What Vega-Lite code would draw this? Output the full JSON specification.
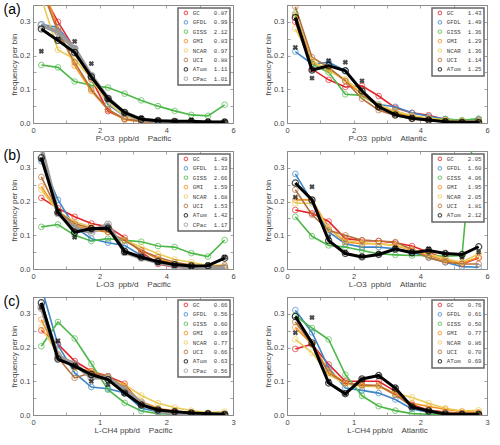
{
"$schema":"https://vega.github.io/schema/vega-lite/v6.json",
"background":"white",
"padding":{"left":3,"top":0,"right":0,"bottom":0},
"datasets":{
"aP":[
{"s":"GC","x":0.25,"y":0.39},{"s":"GC","x":0.75,"y":0.30},{"s":"GC","x":1.25,"y":0.22},{"s":"GC","x":1.75,"y":0.13},{"s":"GC","x":2.25,"y":0.035},{"s":"GC","x":2.75,"y":0.012},{"s":"GC","x":3.25,"y":0.005},{"s":"GC","x":3.75,"y":0.003},{"s":"GC","x":4.25,"y":0.002},{"s":"GC","x":4.75,"y":0.001},{"s":"GC","x":5.25,"y":0.001},{"s":"GC","x":5.75,"y":0.001},
{"s":"GFDL","x":0.25,"y":0.293},{"s":"GFDL","x":0.75,"y":0.283},{"s":"GFDL","x":1.25,"y":0.22},{"s":"GFDL","x":1.75,"y":0.14},{"s":"GFDL","x":2.25,"y":0.055},{"s":"GFDL","x":2.75,"y":0.02},{"s":"GFDL","x":3.25,"y":0.008},{"s":"GFDL","x":3.75,"y":0.004},{"s":"GFDL","x":4.25,"y":0.002},{"s":"GFDL","x":4.75,"y":0.001},{"s":"GFDL","x":5.25,"y":0.001},{"s":"GFDL","x":5.75,"y":0.001},
{"s":"GISS","x":0.25,"y":0.172},{"s":"GISS","x":0.75,"y":0.165},{"s":"GISS","x":1.25,"y":0.123},{"s":"GISS","x":1.75,"y":0.112},{"s":"GISS","x":2.25,"y":0.105},{"s":"GISS","x":2.75,"y":0.087},{"s":"GISS","x":3.25,"y":0.067},{"s":"GISS","x":3.75,"y":0.05},{"s":"GISS","x":4.25,"y":0.036},{"s":"GISS","x":4.75,"y":0.024},{"s":"GISS","x":5.25,"y":0.021},{"s":"GISS","x":5.75,"y":0.054},
{"s":"GMI","x":0.25,"y":0.42},{"s":"GMI","x":0.75,"y":0.28},{"s":"GMI","x":1.25,"y":0.17},{"s":"GMI","x":1.75,"y":0.095},{"s":"GMI","x":2.25,"y":0.04},{"s":"GMI","x":2.75,"y":0.01},{"s":"GMI","x":3.25,"y":0.004},{"s":"GMI","x":3.75,"y":0.002},{"s":"GMI","x":4.25,"y":0.001},{"s":"GMI","x":4.75,"y":0.001},{"s":"GMI","x":5.25,"y":0.001},{"s":"GMI","x":5.75,"y":0.001},
{"s":"NCAR","x":0.25,"y":0.37},{"s":"NCAR","x":0.75,"y":0.217},{"s":"NCAR","x":1.25,"y":0.19},{"s":"NCAR","x":1.75,"y":0.13},{"s":"NCAR","x":2.25,"y":0.06},{"s":"NCAR","x":2.75,"y":0.02},{"s":"NCAR","x":3.25,"y":0.008},{"s":"NCAR","x":3.75,"y":0.004},{"s":"NCAR","x":4.25,"y":0.002},{"s":"NCAR","x":4.75,"y":0.001},{"s":"NCAR","x":5.25,"y":0.001},{"s":"NCAR","x":5.75,"y":0.001},
{"s":"UCI","x":0.25,"y":0.40},{"s":"UCI","x":0.75,"y":0.27},{"s":"UCI","x":1.25,"y":0.18},{"s":"UCI","x":1.75,"y":0.10},{"s":"UCI","x":2.25,"y":0.04},{"s":"UCI","x":2.75,"y":0.012},{"s":"UCI","x":3.25,"y":0.005},{"s":"UCI","x":3.75,"y":0.002},{"s":"UCI","x":4.25,"y":0.001},{"s":"UCI","x":4.75,"y":0.001},{"s":"UCI","x":5.25,"y":0.001},{"s":"UCI","x":5.75,"y":0.001},
{"s":"CPac","x":0.25,"y":0.29},{"s":"CPac","x":0.75,"y":0.27},{"s":"CPac","x":1.25,"y":0.22},{"s":"CPac","x":1.75,"y":0.14},{"s":"CPac","x":2.25,"y":0.073},{"s":"CPac","x":2.75,"y":0.03},{"s":"CPac","x":3.25,"y":0.01},{"s":"CPac","x":3.75,"y":0.005},{"s":"CPac","x":4.25,"y":0.003},{"s":"CPac","x":4.75,"y":0.002},{"s":"CPac","x":5.25,"y":0.001},{"s":"CPac","x":5.75,"y":0.001},
{"s":"ATom","x":0.25,"y":0.279},{"s":"ATom","x":0.75,"y":0.245},{"s":"ATom","x":1.25,"y":0.209},{"s":"ATom","x":1.75,"y":0.137},{"s":"ATom","x":2.25,"y":0.072},{"s":"ATom","x":2.75,"y":0.031},{"s":"ATom","x":3.25,"y":0.011},{"s":"ATom","x":3.75,"y":0.007},{"s":"ATom","x":4.25,"y":0.005},{"s":"ATom","x":4.75,"y":0.005},{"s":"ATom","x":5.25,"y":0.003},{"s":"ATom","x":5.75,"y":0.003},
{"s":"X","x":0.25,"y":0.213},{"s":"X","x":0.75,"y":0.25},{"s":"X","x":1.25,"y":0.242},{"s":"X","x":1.75,"y":0.176},{"s":"X","x":2.25,"y":0.07},{"s":"X","x":2.75,"y":0.03},{"s":"X","x":3.25,"y":0.016},{"s":"X","x":3.75,"y":0.008},{"s":"X","x":4.25,"y":0.005},{"s":"X","x":4.75,"y":0.009},{"s":"X","x":5.25,"y":0.004},{"s":"X","x":5.75,"y":0.004}
],
"aA":[
{"s":"GC","x":0.25,"y":0.30},{"s":"GC","x":0.75,"y":0.16},{"s":"GC","x":1.25,"y":0.128},{"s":"GC","x":1.75,"y":0.107},{"s":"GC","x":2.25,"y":0.11},{"s":"GC","x":2.75,"y":0.08},{"s":"GC","x":3.25,"y":0.045},{"s":"GC","x":3.75,"y":0.03},{"s":"GC","x":4.25,"y":0.023},{"s":"GC","x":4.75,"y":0.01},{"s":"GC","x":5.25,"y":0.006},{"s":"GC","x":5.75,"y":0.01},
{"s":"GFDL","x":0.25,"y":0.212},{"s":"GFDL","x":0.75,"y":0.175},{"s":"GFDL","x":1.25,"y":0.18},{"s":"GFDL","x":1.75,"y":0.155},{"s":"GFDL","x":2.25,"y":0.09},{"s":"GFDL","x":2.75,"y":0.055},{"s":"GFDL","x":3.25,"y":0.048},{"s":"GFDL","x":3.75,"y":0.03},{"s":"GFDL","x":4.25,"y":0.02},{"s":"GFDL","x":4.75,"y":0.012},{"s":"GFDL","x":5.25,"y":0.007},{"s":"GFDL","x":5.75,"y":0.01},
{"s":"GISS","x":0.25,"y":0.325},{"s":"GISS","x":0.75,"y":0.175},{"s":"GISS","x":1.25,"y":0.15},{"s":"GISS","x":1.75,"y":0.085},{"s":"GISS","x":2.25,"y":0.082},{"s":"GISS","x":2.75,"y":0.05},{"s":"GISS","x":3.25,"y":0.035},{"s":"GISS","x":3.75,"y":0.02},{"s":"GISS","x":4.25,"y":0.012},{"s":"GISS","x":4.75,"y":0.012},{"s":"GISS","x":5.25,"y":0.008},{"s":"GISS","x":5.75,"y":0.013},
{"s":"GMI","x":0.25,"y":0.32},{"s":"GMI","x":0.75,"y":0.18},{"s":"GMI","x":1.25,"y":0.16},{"s":"GMI","x":1.75,"y":0.125},{"s":"GMI","x":2.25,"y":0.085},{"s":"GMI","x":2.75,"y":0.05},{"s":"GMI","x":3.25,"y":0.03},{"s":"GMI","x":3.75,"y":0.02},{"s":"GMI","x":4.25,"y":0.012},{"s":"GMI","x":4.75,"y":0.007},{"s":"GMI","x":5.25,"y":0.004},{"s":"GMI","x":5.75,"y":0.004},
{"s":"NCAR","x":0.25,"y":0.28},{"s":"NCAR","x":0.75,"y":0.185},{"s":"NCAR","x":1.25,"y":0.155},{"s":"NCAR","x":1.75,"y":0.13},{"s":"NCAR","x":2.25,"y":0.09},{"s":"NCAR","x":2.75,"y":0.055},{"s":"NCAR","x":3.25,"y":0.035},{"s":"NCAR","x":3.75,"y":0.022},{"s":"NCAR","x":4.25,"y":0.015},{"s":"NCAR","x":4.75,"y":0.009},{"s":"NCAR","x":5.25,"y":0.006},{"s":"NCAR","x":5.75,"y":0.005},
{"s":"UCI","x":0.25,"y":0.345},{"s":"UCI","x":0.75,"y":0.195},{"s":"UCI","x":1.25,"y":0.165},{"s":"UCI","x":1.75,"y":0.125},{"s":"UCI","x":2.25,"y":0.072},{"s":"UCI","x":2.75,"y":0.038},{"s":"UCI","x":3.25,"y":0.022},{"s":"UCI","x":3.75,"y":0.012},{"s":"UCI","x":4.25,"y":0.007},{"s":"UCI","x":4.75,"y":0.004},{"s":"UCI","x":5.25,"y":0.002},{"s":"UCI","x":5.75,"y":0.002},
{"s":"ATom","x":0.25,"y":0.313},{"s":"ATom","x":0.75,"y":0.157},{"s":"ATom","x":1.25,"y":0.17},{"s":"ATom","x":1.75,"y":0.155},{"s":"ATom","x":2.25,"y":0.095},{"s":"ATom","x":2.75,"y":0.048},{"s":"ATom","x":3.25,"y":0.024},{"s":"ATom","x":3.75,"y":0.014},{"s":"ATom","x":4.25,"y":0.009},{"s":"ATom","x":4.75,"y":0.004},{"s":"ATom","x":5.25,"y":0.002},{"s":"ATom","x":5.75,"y":0.002},
{"s":"X","x":0.25,"y":0.224},{"s":"X","x":0.75,"y":0.133},{"s":"X","x":1.25,"y":0.185},{"s":"X","x":1.75,"y":0.18},{"s":"X","x":2.25,"y":0.125},{"s":"X","x":2.75,"y":0.05},{"s":"X","x":3.25,"y":0.025},{"s":"X","x":3.75,"y":0.015},{"s":"X","x":4.25,"y":0.01},{"s":"X","x":4.75,"y":0.005},{"s":"X","x":5.25,"y":0.003},{"s":"X","x":5.75,"y":0.002}
],
"bP":[
{"s":"GC","x":0.25,"y":0.211},{"s":"GC","x":0.75,"y":0.18},{"s":"GC","x":1.25,"y":0.155},{"s":"GC","x":1.75,"y":0.135},{"s":"GC","x":2.25,"y":0.125},{"s":"GC","x":2.75,"y":0.093},{"s":"GC","x":3.25,"y":0.05},{"s":"GC","x":3.75,"y":0.015},{"s":"GC","x":4.25,"y":0.005},{"s":"GC","x":4.75,"y":0.003},{"s":"GC","x":5.25,"y":0.002},{"s":"GC","x":5.75,"y":0.003},
{"s":"GFDL","x":0.25,"y":0.32},{"s":"GFDL","x":0.75,"y":0.205},{"s":"GFDL","x":1.25,"y":0.125},{"s":"GFDL","x":1.75,"y":0.09},{"s":"GFDL","x":2.25,"y":0.078},{"s":"GFDL","x":2.75,"y":0.07},{"s":"GFDL","x":3.25,"y":0.04},{"s":"GFDL","x":3.75,"y":0.02},{"s":"GFDL","x":4.25,"y":0.01},{"s":"GFDL","x":4.75,"y":0.005},{"s":"GFDL","x":5.25,"y":0.003},{"s":"GFDL","x":5.75,"y":0.003},
{"s":"GISS","x":0.25,"y":0.125},{"s":"GISS","x":0.75,"y":0.132},{"s":"GISS","x":1.25,"y":0.10},{"s":"GISS","x":1.75,"y":0.083},{"s":"GISS","x":2.25,"y":0.09},{"s":"GISS","x":2.75,"y":0.085},{"s":"GISS","x":3.25,"y":0.081},{"s":"GISS","x":3.75,"y":0.068},{"s":"GISS","x":4.25,"y":0.065},{"s":"GISS","x":4.75,"y":0.047},{"s":"GISS","x":5.25,"y":0.037},{"s":"GISS","x":5.75,"y":0.086},
{"s":"GMI","x":0.25,"y":0.245},{"s":"GMI","x":0.75,"y":0.17},{"s":"GMI","x":1.25,"y":0.13},{"s":"GMI","x":1.75,"y":0.115},{"s":"GMI","x":2.25,"y":0.11},{"s":"GMI","x":2.75,"y":0.085},{"s":"GMI","x":3.25,"y":0.055},{"s":"GMI","x":3.75,"y":0.03},{"s":"GMI","x":4.25,"y":0.015},{"s":"GMI","x":4.75,"y":0.008},{"s":"GMI","x":5.25,"y":0.005},{"s":"GMI","x":5.75,"y":0.005},
{"s":"NCAR","x":0.25,"y":0.235},{"s":"NCAR","x":0.75,"y":0.17},{"s":"NCAR","x":1.25,"y":0.14},{"s":"NCAR","x":1.75,"y":0.125},{"s":"NCAR","x":2.25,"y":0.11},{"s":"NCAR","x":2.75,"y":0.085},{"s":"NCAR","x":3.25,"y":0.065},{"s":"NCAR","x":3.75,"y":0.045},{"s":"NCAR","x":4.25,"y":0.028},{"s":"NCAR","x":4.75,"y":0.02},{"s":"NCAR","x":5.25,"y":0.01},{"s":"NCAR","x":5.75,"y":0.012},
{"s":"UCI","x":0.25,"y":0.273},{"s":"UCI","x":0.75,"y":0.17},{"s":"UCI","x":1.25,"y":0.135},{"s":"UCI","x":1.75,"y":0.12},{"s":"UCI","x":2.25,"y":0.11},{"s":"UCI","x":2.75,"y":0.085},{"s":"UCI","x":3.25,"y":0.055},{"s":"UCI","x":3.75,"y":0.035},{"s":"UCI","x":4.25,"y":0.02},{"s":"UCI","x":4.75,"y":0.012},{"s":"UCI","x":5.25,"y":0.007},{"s":"UCI","x":5.75,"y":0.01},
{"s":"CPac","x":0.25,"y":0.36},{"s":"CPac","x":0.75,"y":0.165},{"s":"CPac","x":1.25,"y":0.12},{"s":"CPac","x":1.75,"y":0.11},{"s":"CPac","x":2.25,"y":0.132},{"s":"CPac","x":2.75,"y":0.05},{"s":"CPac","x":3.25,"y":0.033},{"s":"CPac","x":3.75,"y":0.02},{"s":"CPac","x":4.25,"y":0.01},{"s":"CPac","x":4.75,"y":0.003},{"s":"CPac","x":5.25,"y":0.003},{"s":"CPac","x":5.75,"y":0.002},
{"s":"ATom","x":0.25,"y":0.33},{"s":"ATom","x":0.75,"y":0.168},{"s":"ATom","x":1.25,"y":0.109},{"s":"ATom","x":1.75,"y":0.12},{"s":"ATom","x":2.25,"y":0.121},{"s":"ATom","x":2.75,"y":0.052},{"s":"ATom","x":3.25,"y":0.035},{"s":"ATom","x":3.75,"y":0.022},{"s":"ATom","x":4.25,"y":0.013},{"s":"ATom","x":4.75,"y":0.009},{"s":"ATom","x":5.25,"y":0.01},{"s":"ATom","x":5.75,"y":0.032},
{"s":"X","x":0.25,"y":0.325},{"s":"X","x":0.75,"y":0.17},{"s":"X","x":1.25,"y":0.094},{"s":"X","x":1.75,"y":0.118},{"s":"X","x":2.25,"y":0.12},{"s":"X","x":2.75,"y":0.048},{"s":"X","x":3.25,"y":0.035},{"s":"X","x":3.75,"y":0.02},{"s":"X","x":4.25,"y":0.012},{"s":"X","x":4.75,"y":0.008},{"s":"X","x":5.25,"y":0.012},{"s":"X","x":5.75,"y":0.035}
],
"bA":[
{"s":"GC","x":0.25,"y":0.175},{"s":"GC","x":0.75,"y":0.165},{"s":"GC","x":1.25,"y":0.141},{"s":"GC","x":1.75,"y":0.09},{"s":"GC","x":2.25,"y":0.085},{"s":"GC","x":2.75,"y":0.083},{"s":"GC","x":3.25,"y":0.078},{"s":"GC","x":3.75,"y":0.068},{"s":"GC","x":4.25,"y":0.05},{"s":"GC","x":4.75,"y":0.03},{"s":"GC","x":5.25,"y":0.015},{"s":"GC","x":5.75,"y":0.033},
{"s":"GFDL","x":0.25,"y":0.282},{"s":"GFDL","x":0.75,"y":0.2},{"s":"GFDL","x":1.25,"y":0.11},{"s":"GFDL","x":1.75,"y":0.075},{"s":"GFDL","x":2.25,"y":0.065},{"s":"GFDL","x":2.75,"y":0.065},{"s":"GFDL","x":3.25,"y":0.06},{"s":"GFDL","x":3.75,"y":0.05},{"s":"GFDL","x":4.25,"y":0.035},{"s":"GFDL","x":4.75,"y":0.02},{"s":"GFDL","x":5.25,"y":0.007},{"s":"GFDL","x":5.75,"y":0.005},
{"s":"GISS","x":0.25,"y":0.155},{"s":"GISS","x":0.75,"y":0.097},{"s":"GISS","x":1.25,"y":0.07},{"s":"GISS","x":1.75,"y":0.065},{"s":"GISS","x":2.25,"y":0.055},{"s":"GISS","x":2.75,"y":0.045},{"s":"GISS","x":3.25,"y":0.042},{"s":"GISS","x":3.75,"y":0.04},{"s":"GISS","x":4.25,"y":0.04},{"s":"GISS","x":4.75,"y":0.038},{"s":"GISS","x":5.25,"y":0.04},{"s":"GISS","x":5.75,"y":0.58},
{"s":"GMI","x":0.25,"y":0.205},{"s":"GMI","x":0.75,"y":0.205},{"s":"GMI","x":1.25,"y":0.12},{"s":"GMI","x":1.75,"y":0.08},{"s":"GMI","x":2.25,"y":0.075},{"s":"GMI","x":2.75,"y":0.075},{"s":"GMI","x":3.25,"y":0.07},{"s":"GMI","x":3.75,"y":0.055},{"s":"GMI","x":4.25,"y":0.04},{"s":"GMI","x":4.75,"y":0.025},{"s":"GMI","x":5.25,"y":0.017},{"s":"GMI","x":5.75,"y":0.035},
{"s":"NCAR","x":0.25,"y":0.195},{"s":"NCAR","x":0.75,"y":0.195},{"s":"NCAR","x":1.25,"y":0.12},{"s":"NCAR","x":1.75,"y":0.085},{"s":"NCAR","x":2.25,"y":0.078},{"s":"NCAR","x":2.75,"y":0.075},{"s":"NCAR","x":3.25,"y":0.07},{"s":"NCAR","x":3.75,"y":0.058},{"s":"NCAR","x":4.25,"y":0.045},{"s":"NCAR","x":4.75,"y":0.03},{"s":"NCAR","x":5.25,"y":0.02},{"s":"NCAR","x":5.75,"y":0.045},
{"s":"UCI","x":0.25,"y":0.235},{"s":"UCI","x":0.75,"y":0.161},{"s":"UCI","x":1.25,"y":0.115},{"s":"UCI","x":1.75,"y":0.10},{"s":"UCI","x":2.25,"y":0.085},{"s":"UCI","x":2.75,"y":0.083},{"s":"UCI","x":3.25,"y":0.08},{"s":"UCI","x":3.75,"y":0.058},{"s":"UCI","x":4.25,"y":0.033},{"s":"UCI","x":4.75,"y":0.02},{"s":"UCI","x":5.25,"y":0.015},{"s":"UCI","x":5.75,"y":0.015},
{"s":"ATom","x":0.25,"y":0.255},{"s":"ATom","x":0.75,"y":0.205},{"s":"ATom","x":1.25,"y":0.084},{"s":"ATom","x":1.75,"y":0.046},{"s":"ATom","x":2.25,"y":0.036},{"s":"ATom","x":2.75,"y":0.043},{"s":"ATom","x":3.25,"y":0.059},{"s":"ATom","x":3.75,"y":0.048},{"s":"ATom","x":4.25,"y":0.055},{"s":"ATom","x":4.75,"y":0.046},{"s":"ATom","x":5.25,"y":0.043},{"s":"ATom","x":5.75,"y":0.066},
{"s":"X","x":0.25,"y":0.213},{"s":"X","x":0.75,"y":0.244},{"s":"X","x":1.25,"y":0.095},{"s":"X","x":1.75,"y":0.048},{"s":"X","x":2.25,"y":0.038},{"s":"X","x":2.75,"y":0.045},{"s":"X","x":3.25,"y":0.062},{"s":"X","x":3.75,"y":0.05},{"s":"X","x":4.25,"y":0.06},{"s":"X","x":4.75,"y":0.046},{"s":"X","x":5.25,"y":0.035},{"s":"X","x":5.75,"y":0.05}
],
"cP":[
{"s":"GC","x":0.125,"y":0.251},{"s":"GC","x":0.375,"y":0.21},{"s":"GC","x":0.625,"y":0.16},{"s":"GC","x":0.875,"y":0.13},{"s":"GC","x":1.125,"y":0.115},{"s":"GC","x":1.375,"y":0.093},{"s":"GC","x":1.625,"y":0.03},{"s":"GC","x":1.875,"y":0.015},{"s":"GC","x":2.125,"y":0.008},{"s":"GC","x":2.375,"y":0.005},{"s":"GC","x":2.625,"y":0.003},{"s":"GC","x":2.875,"y":0.002},
{"s":"GFDL","x":0.125,"y":0.38},{"s":"GFDL","x":0.375,"y":0.207},{"s":"GFDL","x":0.625,"y":0.125},{"s":"GFDL","x":0.875,"y":0.083},{"s":"GFDL","x":1.125,"y":0.078},{"s":"GFDL","x":1.375,"y":0.065},{"s":"GFDL","x":1.625,"y":0.02},{"s":"GFDL","x":1.875,"y":0.01},{"s":"GFDL","x":2.125,"y":0.005},{"s":"GFDL","x":2.375,"y":0.003},{"s":"GFDL","x":2.625,"y":0.002},{"s":"GFDL","x":2.875,"y":0.001},
{"s":"GISS","x":0.125,"y":0.204},{"s":"GISS","x":0.375,"y":0.276},{"s":"GISS","x":0.625,"y":0.227},{"s":"GISS","x":0.875,"y":0.152},{"s":"GISS","x":1.125,"y":0.075},{"s":"GISS","x":1.375,"y":0.036},{"s":"GISS","x":1.625,"y":0.012},{"s":"GISS","x":1.875,"y":0.004},{"s":"GISS","x":2.125,"y":0.002},{"s":"GISS","x":2.375,"y":0.001},{"s":"GISS","x":2.625,"y":0.001},{"s":"GISS","x":2.875,"y":0.001},
{"s":"GMI","x":0.125,"y":0.283},{"s":"GMI","x":0.375,"y":0.18},{"s":"GMI","x":0.625,"y":0.14},{"s":"GMI","x":0.875,"y":0.13},{"s":"GMI","x":1.125,"y":0.11},{"s":"GMI","x":1.375,"y":0.085},{"s":"GMI","x":1.625,"y":0.04},{"s":"GMI","x":1.875,"y":0.02},{"s":"GMI","x":2.125,"y":0.012},{"s":"GMI","x":2.375,"y":0.007},{"s":"GMI","x":2.625,"y":0.004},{"s":"GMI","x":2.875,"y":0.004},
{"s":"NCAR","x":0.125,"y":0.26},{"s":"NCAR","x":0.375,"y":0.18},{"s":"NCAR","x":0.625,"y":0.14},{"s":"NCAR","x":0.875,"y":0.125},{"s":"NCAR","x":1.125,"y":0.11},{"s":"NCAR","x":1.375,"y":0.09},{"s":"NCAR","x":1.625,"y":0.058},{"s":"NCAR","x":1.875,"y":0.035},{"s":"NCAR","x":2.125,"y":0.022},{"s":"NCAR","x":2.375,"y":0.013},{"s":"NCAR","x":2.625,"y":0.007},{"s":"NCAR","x":2.875,"y":0.01},
{"s":"UCI","x":0.125,"y":0.315},{"s":"UCI","x":0.375,"y":0.17},{"s":"UCI","x":0.625,"y":0.11},{"s":"UCI","x":0.875,"y":0.125},{"s":"UCI","x":1.125,"y":0.115},{"s":"UCI","x":1.375,"y":0.08},{"s":"UCI","x":1.625,"y":0.03},{"s":"UCI","x":1.875,"y":0.015},{"s":"UCI","x":2.125,"y":0.008},{"s":"UCI","x":2.375,"y":0.005},{"s":"UCI","x":2.625,"y":0.003},{"s":"UCI","x":2.875,"y":0.002},
{"s":"CPac","x":0.125,"y":0.32},{"s":"CPac","x":0.375,"y":0.175},{"s":"CPac","x":0.625,"y":0.15},{"s":"CPac","x":0.875,"y":0.112},{"s":"CPac","x":1.125,"y":0.11},{"s":"CPac","x":1.375,"y":0.075},{"s":"CPac","x":1.625,"y":0.035},{"s":"CPac","x":1.875,"y":0.012},{"s":"CPac","x":2.125,"y":0.004},{"s":"CPac","x":2.375,"y":0.003},{"s":"CPac","x":2.625,"y":0.002},{"s":"CPac","x":2.875,"y":0.001},
{"s":"ATom","x":0.125,"y":0.333},{"s":"ATom","x":0.375,"y":0.166},{"s":"ATom","x":0.625,"y":0.145},{"s":"ATom","x":0.875,"y":0.12},{"s":"ATom","x":1.125,"y":0.105},{"s":"ATom","x":1.375,"y":0.065},{"s":"ATom","x":1.625,"y":0.03},{"s":"ATom","x":1.875,"y":0.015},{"s":"ATom","x":2.125,"y":0.01},{"s":"ATom","x":2.375,"y":0.006},{"s":"ATom","x":2.625,"y":0.004},{"s":"ATom","x":2.875,"y":0.002},
{"s":"X","x":0.125,"y":0.32},{"s":"X","x":0.375,"y":0.22},{"s":"X","x":0.625,"y":0.145},{"s":"X","x":0.875,"y":0.10},{"s":"X","x":1.125,"y":0.09},{"s":"X","x":1.375,"y":0.065},{"s":"X","x":1.625,"y":0.03},{"s":"X","x":1.875,"y":0.015},{"s":"X","x":2.125,"y":0.01},{"s":"X","x":2.375,"y":0.006},{"s":"X","x":2.625,"y":0.004},{"s":"X","x":2.875,"y":0.002}
],
"cA":[
{"s":"GC","x":0.125,"y":0.196},{"s":"GC","x":0.375,"y":0.21},{"s":"GC","x":0.625,"y":0.15},{"s":"GC","x":0.875,"y":0.10},{"s":"GC","x":1.125,"y":0.10},{"s":"GC","x":1.375,"y":0.10},{"s":"GC","x":1.625,"y":0.07},{"s":"GC","x":1.875,"y":0.03},{"s":"GC","x":2.125,"y":0.015},{"s":"GC","x":2.375,"y":0.008},{"s":"GC","x":2.625,"y":0.005},{"s":"GC","x":2.875,"y":0.004},
{"s":"GFDL","x":0.125,"y":0.311},{"s":"GFDL","x":0.375,"y":0.245},{"s":"GFDL","x":0.625,"y":0.14},{"s":"GFDL","x":0.875,"y":0.08},{"s":"GFDL","x":1.125,"y":0.073},{"s":"GFDL","x":1.375,"y":0.065},{"s":"GFDL","x":1.625,"y":0.046},{"s":"GFDL","x":1.875,"y":0.018},{"s":"GFDL","x":2.125,"y":0.008},{"s":"GFDL","x":2.375,"y":0.004},{"s":"GFDL","x":2.625,"y":0.002},{"s":"GFDL","x":2.875,"y":0.002},
{"s":"GISS","x":0.125,"y":0.295},{"s":"GISS","x":0.375,"y":0.258},{"s":"GISS","x":0.625,"y":0.224},{"s":"GISS","x":0.875,"y":0.12},{"s":"GISS","x":1.125,"y":0.057},{"s":"GISS","x":1.375,"y":0.026},{"s":"GISS","x":1.625,"y":0.013},{"s":"GISS","x":1.875,"y":0.004},{"s":"GISS","x":2.125,"y":0.002},{"s":"GISS","x":2.375,"y":0.001},{"s":"GISS","x":2.625,"y":0.001},{"s":"GISS","x":2.875,"y":0.001},
{"s":"GMI","x":0.125,"y":0.26},{"s":"GMI","x":0.375,"y":0.21},{"s":"GMI","x":0.625,"y":0.13},{"s":"GMI","x":0.875,"y":0.095},{"s":"GMI","x":1.125,"y":0.09},{"s":"GMI","x":1.375,"y":0.085},{"s":"GMI","x":1.625,"y":0.06},{"s":"GMI","x":1.875,"y":0.035},{"s":"GMI","x":2.125,"y":0.025},{"s":"GMI","x":2.375,"y":0.017},{"s":"GMI","x":2.625,"y":0.01},{"s":"GMI","x":2.875,"y":0.008},
{"s":"NCAR","x":0.125,"y":0.224},{"s":"NCAR","x":0.375,"y":0.185},{"s":"NCAR","x":0.625,"y":0.12},{"s":"NCAR","x":0.875,"y":0.092},{"s":"NCAR","x":1.125,"y":0.085},{"s":"NCAR","x":1.375,"y":0.085},{"s":"NCAR","x":1.625,"y":0.065},{"s":"NCAR","x":1.875,"y":0.052},{"s":"NCAR","x":2.125,"y":0.035},{"s":"NCAR","x":2.375,"y":0.02},{"s":"NCAR","x":2.625,"y":0.012},{"s":"NCAR","x":2.875,"y":0.014},
{"s":"UCI","x":0.125,"y":0.276},{"s":"UCI","x":0.375,"y":0.21},{"s":"UCI","x":0.625,"y":0.125},{"s":"UCI","x":0.875,"y":0.095},{"s":"UCI","x":1.125,"y":0.088},{"s":"UCI","x":1.375,"y":0.088},{"s":"UCI","x":1.625,"y":0.06},{"s":"UCI","x":1.875,"y":0.025},{"s":"UCI","x":2.125,"y":0.015},{"s":"UCI","x":2.375,"y":0.008},{"s":"UCI","x":2.625,"y":0.005},{"s":"UCI","x":2.875,"y":0.004},
{"s":"ATom","x":0.125,"y":0.292},{"s":"ATom","x":0.375,"y":0.214},{"s":"ATom","x":0.625,"y":0.095},{"s":"ATom","x":0.875,"y":0.063},{"s":"ATom","x":1.125,"y":0.107},{"s":"ATom","x":1.375,"y":0.117},{"s":"ATom","x":1.625,"y":0.08},{"s":"ATom","x":1.875,"y":0.024},{"s":"ATom","x":2.125,"y":0.012},{"s":"ATom","x":2.375,"y":0.003},{"s":"ATom","x":2.625,"y":0.002},{"s":"ATom","x":2.875,"y":0.002},
{"s":"X","x":0.125,"y":0.244},{"s":"X","x":0.375,"y":0.289},{"s":"X","x":0.625,"y":0.1},{"s":"X","x":0.875,"y":0.063},{"s":"X","x":1.125,"y":0.105},{"s":"X","x":1.375,"y":0.115},{"s":"X","x":1.625,"y":0.08},{"s":"X","x":1.875,"y":0.024},{"s":"X","x":2.125,"y":0.012},{"s":"X","x":2.375,"y":0.003},{"s":"X","x":2.625,"y":0.002},{"s":"X","x":2.875,"y":0.002}
]
},
"columns":2,
"spacing":{"row":3,"column":28},
"resolve":{"scale":{"x":"independent","y":"independent","color":"independent"},"legend":{"color":"independent"}},
"concat":[
{"width":200,"height":118,"data":{"name":"aP"},
"title":{"text":"(a)","anchor":"start","frame":"bounds","orient":"top","offset":0,"dx":-7,"dy":16,"fontSize":14,"fontWeight":"normal","font":"Liberation Sans","color":"#000"},
"resolve":{"axis":{"x":"independent","y":"independent"}},
"layer":[
{"encoding":{
"x":{"field":"x","type":"quantitative","scale":{"domain":[0,6],"nice":false},"axis":{"values":[0,1,2,3,4,5,6],"labelExpr":"datum.value % 2 == 0 ? datum.label : ''","title":"P-O3\u00a0\u00a0ppb/d\u00a0\u00a0\u00a0\u00a0Pacific"}},
"y":{"field":"y","type":"quantitative","scale":{"domain":[0,0.35],"nice":false},"axis":{"values":[0,0.05,0.1,0.15,0.2,0.25,0.3,0.35],"labelExpr":"round(datum.value*100) % 10 == 0 ? format(datum.value,'.1f') : ''","title":"frequency per bin"}},
"color":{"field":"s","type":"nominal","scale":{"domain":["GC","GFDL","GISS","GMI","NCAR","UCI","ATom","CPac"],"range":["#e4262a","#3d85c6","#4db848","#f5901e","#ebcb58","#b5703a","#000000","#999999"]},"legend":{"title":null,"labelExpr":"pad(datum.label,6,'\u00a0') + ({'GC':'0.87','GFDL':'0.99','GISS':'2.12','GMI':'0.83','NCAR':'0.97','UCI':'0.88','ATom':'1.11','CPac':'1.01'})[datum.label]"}}},
"layer":[
{"transform":[{"filter":"indexof(['GC','GFDL','GISS','GMI','NCAR','UCI'],datum.s)>=0"}],"mark":{"type":"line","strokeWidth":1.6,"clip":true}},
{"transform":[{"filter":"indexof(['GC','GFDL','GISS','GMI','NCAR','UCI'],datum.s)>=0"}],"mark":{"type":"point","filled":false,"size":32,"strokeWidth":1,"clip":true}},
{"transform":[{"filter":"datum.s=='CPac'"}],"mark":{"type":"line","strokeWidth":4,"clip":true}},
{"transform":[{"filter":"datum.s=='CPac'"}],"mark":{"type":"point","filled":false,"size":45,"strokeWidth":1.2,"clip":true}},
{"transform":[{"filter":"datum.s=='X'"}],"mark":{"type":"point","shape":"cross","angle":45,"filled":true,"size":30,"clip":true},"encoding":{"color":{"value":"#000"}}},
{"transform":[{"filter":"datum.s=='ATom'"}],"mark":{"type":"line","strokeWidth":3,"clip":true}},
{"transform":[{"filter":"datum.s=='ATom'"}],"mark":{"type":"point","filled":false,"size":38,"strokeWidth":1.2,"clip":true}}
]},
{"mark":{"type":"point","opacity":0,"clip":true},"encoding":{
"x":{"field":"x","type":"quantitative","scale":{"domain":[0,6],"nice":false},"axis":{"orient":"top","values":[0,1,2,3,4,5,6],"labels":false,"domain":false,"title":null}},
"y":{"field":"y","type":"quantitative","scale":{"domain":[0,0.35],"nice":false},"axis":{"orient":"right","values":[0,0.05,0.1,0.15,0.2,0.25,0.3,0.35],"labels":false,"domain":false,"title":null}}}}
]},
{"width":200,"height":118,"data":{"name":"aA"},
"resolve":{"axis":{"x":"independent","y":"independent"}},
"layer":[
{"encoding":{
"x":{"field":"x","type":"quantitative","scale":{"domain":[0,6],"nice":false},"axis":{"values":[0,1,2,3,4,5,6],"labelExpr":"datum.value % 2 == 0 ? datum.label : ''","title":"P-O3\u00a0\u00a0ppb/d\u00a0\u00a0\u00a0\u00a0Atlantic"}},
"y":{"field":"y","type":"quantitative","scale":{"domain":[0,0.35],"nice":false},"axis":{"values":[0,0.05,0.1,0.15,0.2,0.25,0.3,0.35],"labelExpr":"round(datum.value*100) % 10 == 0 ? format(datum.value,'.1f') : ''","title":"frequency per bin"}},
"color":{"field":"s","type":"nominal","scale":{"domain":["GC","GFDL","GISS","GMI","NCAR","UCI","ATom"],"range":["#e4262a","#3d85c6","#4db848","#f5901e","#ebcb58","#b5703a","#000000"]},"legend":{"title":null,"labelExpr":"pad(datum.label,6,'\u00a0') + ({'GC':'1.43','GFDL':'1.49','GISS':'1.36','GMI':'1.29','NCAR':'1.36','UCI':'1.14','ATom':'1.25'})[datum.label]"}}},
"layer":[
{"transform":[{"filter":"indexof(['GC','GFDL','GISS','GMI','NCAR','UCI'],datum.s)>=0"}],"mark":{"type":"line","strokeWidth":1.6,"clip":true}},
{"transform":[{"filter":"indexof(['GC','GFDL','GISS','GMI','NCAR','UCI'],datum.s)>=0"}],"mark":{"type":"point","filled":false,"size":32,"strokeWidth":1,"clip":true}},
{"transform":[{"filter":"datum.s=='X'"}],"mark":{"type":"point","shape":"cross","angle":45,"filled":true,"size":30,"clip":true},"encoding":{"color":{"value":"#000"}}},
{"transform":[{"filter":"datum.s=='ATom'"}],"mark":{"type":"line","strokeWidth":3,"clip":true}},
{"transform":[{"filter":"datum.s=='ATom'"}],"mark":{"type":"point","filled":false,"size":38,"strokeWidth":1.2,"clip":true}}
]},
{"mark":{"type":"point","opacity":0,"clip":true},"encoding":{
"x":{"field":"x","type":"quantitative","scale":{"domain":[0,6],"nice":false},"axis":{"orient":"top","values":[0,1,2,3,4,5,6],"labels":false,"domain":false,"title":null}},
"y":{"field":"y","type":"quantitative","scale":{"domain":[0,0.35],"nice":false},"axis":{"orient":"right","values":[0,0.05,0.1,0.15,0.2,0.25,0.3,0.35],"labels":false,"domain":false,"title":null}}}}
]},
{"width":200,"height":118,"data":{"name":"bP"},
"title":{"text":"(b)","anchor":"start","frame":"bounds","orient":"top","offset":0,"dx":-7,"dy":16,"fontSize":14,"fontWeight":"normal","font":"Liberation Sans","color":"#000"},
"resolve":{"axis":{"x":"independent","y":"independent"}},
"layer":[
{"encoding":{
"x":{"field":"x","type":"quantitative","scale":{"domain":[0,6],"nice":false},"axis":{"values":[0,1,2,3,4,5,6],"labelExpr":"datum.value % 2 == 0 ? datum.label : ''","title":"L-O3\u00a0\u00a0ppb/d\u00a0\u00a0\u00a0\u00a0Pacific"}},
"y":{"field":"y","type":"quantitative","scale":{"domain":[0,0.35],"nice":false},"axis":{"values":[0,0.05,0.1,0.15,0.2,0.25,0.3,0.35],"labelExpr":"round(datum.value*100) % 10 == 0 ? format(datum.value,'.1f') : ''","title":"frequency per bin"}},
"color":{"field":"s","type":"nominal","scale":{"domain":["GC","GFDL","GISS","GMI","NCAR","UCI","ATom","CPac"],"range":["#e4262a","#3d85c6","#4db848","#f5901e","#ebcb58","#b5703a","#000000","#999999"]},"legend":{"title":null,"labelExpr":"pad(datum.label,6,'\u00a0') + ({'GC':'1.49','GFDL':'1.33','GISS':'2.66','GMI':'1.59','NCAR':'1.68','UCI':'1.53','ATom':'1.42','CPac':'1.17'})[datum.label]"}}},
"layer":[
{"transform":[{"filter":"indexof(['GC','GFDL','GISS','GMI','NCAR','UCI'],datum.s)>=0"}],"mark":{"type":"line","strokeWidth":1.6,"clip":true}},
{"transform":[{"filter":"indexof(['GC','GFDL','GISS','GMI','NCAR','UCI'],datum.s)>=0"}],"mark":{"type":"point","filled":false,"size":32,"strokeWidth":1,"clip":true}},
{"transform":[{"filter":"datum.s=='CPac'"}],"mark":{"type":"line","strokeWidth":4,"clip":true}},
{"transform":[{"filter":"datum.s=='CPac'"}],"mark":{"type":"point","filled":false,"size":45,"strokeWidth":1.2,"clip":true}},
{"transform":[{"filter":"datum.s=='X'"}],"mark":{"type":"point","shape":"cross","angle":45,"filled":true,"size":30,"clip":true},"encoding":{"color":{"value":"#000"}}},
{"transform":[{"filter":"datum.s=='ATom'"}],"mark":{"type":"line","strokeWidth":3,"clip":true}},
{"transform":[{"filter":"datum.s=='ATom'"}],"mark":{"type":"point","filled":false,"size":38,"strokeWidth":1.2,"clip":true}}
]},
{"mark":{"type":"point","opacity":0,"clip":true},"encoding":{
"x":{"field":"x","type":"quantitative","scale":{"domain":[0,6],"nice":false},"axis":{"orient":"top","values":[0,1,2,3,4,5,6],"labels":false,"domain":false,"title":null}},
"y":{"field":"y","type":"quantitative","scale":{"domain":[0,0.35],"nice":false},"axis":{"orient":"right","values":[0,0.05,0.1,0.15,0.2,0.25,0.3,0.35],"labels":false,"domain":false,"title":null}}}}
]},
{"width":200,"height":118,"data":{"name":"bA"},
"resolve":{"axis":{"x":"independent","y":"independent"}},
"layer":[
{"encoding":{
"x":{"field":"x","type":"quantitative","scale":{"domain":[0,6],"nice":false},"axis":{"values":[0,1,2,3,4,5,6],"labelExpr":"datum.value % 2 == 0 ? datum.label : ''","title":"L-O3\u00a0\u00a0ppb/d\u00a0\u00a0\u00a0\u00a0Atlantic"}},
"y":{"field":"y","type":"quantitative","scale":{"domain":[0,0.35],"nice":false},"axis":{"values":[0,0.05,0.1,0.15,0.2,0.25,0.3,0.35],"labelExpr":"round(datum.value*100) % 10 == 0 ? format(datum.value,'.1f') : ''","title":"frequency per bin"}},
"color":{"field":"s","type":"nominal","scale":{"domain":["GC","GFDL","GISS","GMI","NCAR","UCI","ATom"],"range":["#e4262a","#3d85c6","#4db848","#f5901e","#ebcb58","#b5703a","#000000"]},"legend":{"title":null,"labelExpr":"pad(datum.label,6,'\u00a0') + ({'GC':'2.05','GFDL':'1.60','GISS':'4.06','GMI':'1.95','NCAR':'2.05','UCI':'1.81','ATom':'2.12'})[datum.label]"}}},
"layer":[
{"transform":[{"filter":"indexof(['GC','GFDL','GISS','GMI','NCAR','UCI'],datum.s)>=0"}],"mark":{"type":"line","strokeWidth":1.6,"clip":true}},
{"transform":[{"filter":"indexof(['GC','GFDL','GISS','GMI','NCAR','UCI'],datum.s)>=0"}],"mark":{"type":"point","filled":false,"size":32,"strokeWidth":1,"clip":true}},
{"transform":[{"filter":"datum.s=='X'"}],"mark":{"type":"point","shape":"cross","angle":45,"filled":true,"size":30,"clip":true},"encoding":{"color":{"value":"#000"}}},
{"transform":[{"filter":"datum.s=='ATom'"}],"mark":{"type":"line","strokeWidth":3,"clip":true}},
{"transform":[{"filter":"datum.s=='ATom'"}],"mark":{"type":"point","filled":false,"size":38,"strokeWidth":1.2,"clip":true}}
]},
{"mark":{"type":"point","opacity":0,"clip":true},"encoding":{
"x":{"field":"x","type":"quantitative","scale":{"domain":[0,6],"nice":false},"axis":{"orient":"top","values":[0,1,2,3,4,5,6],"labels":false,"domain":false,"title":null}},
"y":{"field":"y","type":"quantitative","scale":{"domain":[0,0.35],"nice":false},"axis":{"orient":"right","values":[0,0.05,0.1,0.15,0.2,0.25,0.3,0.35],"labels":false,"domain":false,"title":null}}}}
]},
{"width":200,"height":118,"data":{"name":"cP"},
"title":{"text":"(c)","anchor":"start","frame":"bounds","orient":"top","offset":0,"dx":-7,"dy":16,"fontSize":14,"fontWeight":"normal","font":"Liberation Sans","color":"#000"},
"resolve":{"axis":{"x":"independent","y":"independent"}},
"layer":[
{"encoding":{
"x":{"field":"x","type":"quantitative","scale":{"domain":[0,3],"nice":false},"axis":{"values":[0,0.5,1,1.5,2,2.5,3],"labelExpr":"datum.value % 1 == 0 ? format(datum.value,'d') : ''","title":"L-CH4 ppb/d\u00a0\u00a0\u00a0\u00a0Pacific"}},
"y":{"field":"y","type":"quantitative","scale":{"domain":[0,0.35],"nice":false},"axis":{"values":[0,0.05,0.1,0.15,0.2,0.25,0.3,0.35],"labelExpr":"round(datum.value*100) % 10 == 0 ? format(datum.value,'.1f') : ''","title":"frequency per bin"}},
"color":{"field":"s","type":"nominal","scale":{"domain":["GC","GFDL","GISS","GMI","NCAR","UCI","ATom","CPac"],"range":["#e4262a","#3d85c6","#4db848","#f5901e","#ebcb58","#b5703a","#000000","#999999"]},"legend":{"title":null,"labelExpr":"pad(datum.label,6,'\u00a0') + ({'GC':'0.66','GFDL':'0.56','GISS':'0.60','GMI':'0.69','NCAR':'0.77','UCI':'0.66','ATom':'0.63','CPac':'0.56'})[datum.label]"}}},
"layer":[
{"transform":[{"filter":"indexof(['GC','GFDL','GISS','GMI','NCAR','UCI'],datum.s)>=0"}],"mark":{"type":"line","strokeWidth":1.6,"clip":true}},
{"transform":[{"filter":"indexof(['GC','GFDL','GISS','GMI','NCAR','UCI'],datum.s)>=0"}],"mark":{"type":"point","filled":false,"size":32,"strokeWidth":1,"clip":true}},
{"transform":[{"filter":"datum.s=='CPac'"}],"mark":{"type":"line","strokeWidth":4,"clip":true}},
{"transform":[{"filter":"datum.s=='CPac'"}],"mark":{"type":"point","filled":false,"size":45,"strokeWidth":1.2,"clip":true}},
{"transform":[{"filter":"datum.s=='X'"}],"mark":{"type":"point","shape":"cross","angle":45,"filled":true,"size":30,"clip":true},"encoding":{"color":{"value":"#000"}}},
{"transform":[{"filter":"datum.s=='ATom'"}],"mark":{"type":"line","strokeWidth":3,"clip":true}},
{"transform":[{"filter":"datum.s=='ATom'"}],"mark":{"type":"point","filled":false,"size":38,"strokeWidth":1.2,"clip":true}}
]},
{"mark":{"type":"point","opacity":0,"clip":true},"encoding":{
"x":{"field":"x","type":"quantitative","scale":{"domain":[0,3],"nice":false},"axis":{"orient":"top","values":[0,0.5,1,1.5,2,2.5,3],"labels":false,"domain":false,"title":null}},
"y":{"field":"y","type":"quantitative","scale":{"domain":[0,0.35],"nice":false},"axis":{"orient":"right","values":[0,0.05,0.1,0.15,0.2,0.25,0.3,0.35],"labels":false,"domain":false,"title":null}}}}
]},
{"width":200,"height":118,"data":{"name":"cA"},
"resolve":{"axis":{"x":"independent","y":"independent"}},
"layer":[
{"encoding":{
"x":{"field":"x","type":"quantitative","scale":{"domain":[0,3],"nice":false},"axis":{"values":[0,0.5,1,1.5,2,2.5,3],"labelExpr":"datum.value % 1 == 0 ? format(datum.value,'d') : ''","title":"L-CH4 ppb/d\u00a0\u00a0\u00a0\u00a0Atlantic"}},
"y":{"field":"y","type":"quantitative","scale":{"domain":[0,0.35],"nice":false},"axis":{"values":[0,0.05,0.1,0.15,0.2,0.25,0.3,0.35],"labelExpr":"round(datum.value*100) % 10 == 0 ? format(datum.value,'.1f') : ''","title":"frequency per bin"}},
"color":{"field":"s","type":"nominal","scale":{"domain":["GC","GFDL","GISS","GMI","NCAR","UCI","ATom"],"range":["#e4262a","#3d85c6","#4db848","#f5901e","#ebcb58","#b5703a","#000000"]},"legend":{"title":null,"labelExpr":"pad(datum.label,6,'\u00a0') + ({'GC':'0.76','GFDL':'0.61','GISS':'0.50','GMI':'0.77','NCAR':'0.86','UCI':'0.70','ATom':'0.69'})[datum.label]"}}},
"layer":[
{"transform":[{"filter":"indexof(['GC','GFDL','GISS','GMI','NCAR','UCI'],datum.s)>=0"}],"mark":{"type":"line","strokeWidth":1.6,"clip":true}},
{"transform":[{"filter":"indexof(['GC','GFDL','GISS','GMI','NCAR','UCI'],datum.s)>=0"}],"mark":{"type":"point","filled":false,"size":32,"strokeWidth":1,"clip":true}},
{"transform":[{"filter":"datum.s=='X'"}],"mark":{"type":"point","shape":"cross","angle":45,"filled":true,"size":30,"clip":true},"encoding":{"color":{"value":"#000"}}},
{"transform":[{"filter":"datum.s=='ATom'"}],"mark":{"type":"line","strokeWidth":3,"clip":true}},
{"transform":[{"filter":"datum.s=='ATom'"}],"mark":{"type":"point","filled":false,"size":38,"strokeWidth":1.2,"clip":true}}
]},
{"mark":{"type":"point","opacity":0,"clip":true},"encoding":{
"x":{"field":"x","type":"quantitative","scale":{"domain":[0,3],"nice":false},"axis":{"orient":"top","values":[0,0.5,1,1.5,2,2.5,3],"labels":false,"domain":false,"title":null}},
"y":{"field":"y","type":"quantitative","scale":{"domain":[0,0.35],"nice":false},"axis":{"orient":"right","values":[0,0.05,0.1,0.15,0.2,0.25,0.3,0.35],"labels":false,"domain":false,"title":null}}}}
]}
],
"config":{
"font":"Liberation Sans",
"view":{"stroke":"#8c8c8c","strokeWidth":1},
"axis":{"domainColor":"#8c8c8c","tickColor":"#8c8c8c","tickSize":-3,"tickWidth":0.8,"labelFont":"Liberation Sans","labelFontSize":7.5,"labelColor":"#444","labelPadding":6,"labelFlush":false,"labelOverlap":false,"titleFont":"Liberation Sans","titleFontSize":8,"titleFontWeight":"normal","titleColor":"#444","titlePadding":1,"grid":false},
"legend":{"orient":"top-right","offset":3,"padding":2,"strokeColor":"#666","strokeWidth":1.5,"fillColor":"white","labelFont":"Liberation Mono","labelFontSize":5.8,"labelColor":"#444","symbolType":"circle","symbolSize":12,"symbolStrokeWidth":1.1,"symbolOffset":3,"labelOffset":4,"rowPadding":0.4}
}
}
